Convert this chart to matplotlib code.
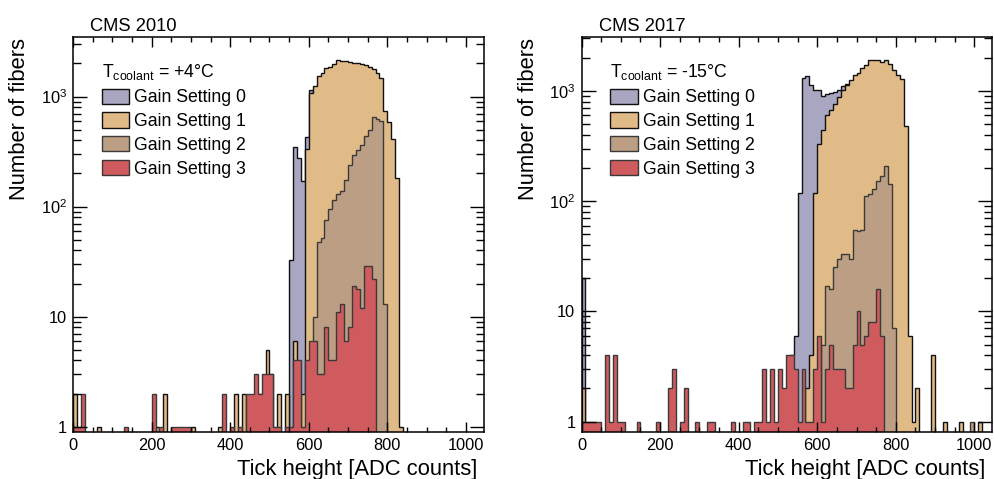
import numpy as np
import matplotlib
matplotlib.use("Agg")
import matplotlib.pyplot as plt
from matplotlib.patches import Patch
from matplotlib.ticker import FixedLocator, MultipleLocator, FuncFormatter, NullFormatter

plt.rcParams['font.family'] = ['Liberation Sans', 'DejaVu Sans']
plt.rcParams['mathtext.fontset'] = 'custom'
plt.rcParams['mathtext.rm'] = 'Liberation Sans'
plt.rcParams['mathtext.it'] = 'Liberation Sans:italic'
plt.rcParams['mathtext.bf'] = 'Liberation Sans:bold'

# binning: 10 ADC counts per bin
bin_width = 10
x_edges = np.arange(0, 1050 + bin_width, bin_width)

labels = ["Gain Setting 0", "Gain Setting 1", "Gain Setting 2", "Gain Setting 3"]
colors = ["#a9a6c1", "#e1bb87", "#bc9e84", "#cf5b5f"]
edges_col = ["#111111", "#111111", "#3a3a3a", "#3a3a3a"]

# ---- CMS 2010, T = +4 C  (bin lower edge -> number of fibers)
g0_2010_bins = [550, 560, 570, 580, 590, 600]
g0_2010_counts = [33, 350, 274, 171, 425, 1150]

g1_2010_bins = [0, 60, 210, 230, 300, 370, 410, 430, 470, 490, 500, 520, 540, 560, 580,
                590, 600, 610, 620, 630, 640, 650, 660, 670, 680, 690, 700, 710, 720,
                730, 740, 750, 760, 770, 780, 790, 800, 810, 820, 830]
g1_2010_counts = [2, 1, 1, 2, 1, 1, 2, 2, 2, 5, 3, 2, 2, 6, 2,
                  333, 1069, 1254, 1536, 1648, 1803, 1867, 1974, 2146, 2117, 2103, 2059, 2030, 2003,
                  1974, 1918, 1867, 1766, 1625, 1463, 738, 590, 408, 183, 1]

g2_2010_bins = [610, 620, 630, 640, 650, 660, 670, 680, 690, 700, 710, 720, 730, 740,
                750, 760, 770, 780, 790]
g2_2010_counts = [10, 48, 52, 75, 95, 115, 130, 140, 174, 238, 294, 326, 362, 437,
                  496, 655, 630, 600, 13]

g3_2010_bins = [0, 10, 20, 130, 200, 220, 250, 260, 270, 280, 290, 380, 400, 420, 440,
                450, 460, 470, 480, 490, 500, 510, 520, 540, 550, 560, 570, 580, 590, 600,
                610, 620, 630, 640, 650, 660, 670, 680, 690, 700, 710, 720, 730, 740,
                750, 760]
g3_2010_counts = [1, 1, 2, 1, 2, 1, 1, 1, 1, 1, 1, 2, 1, 1, 2,
                  2, 3, 2, 3, 3, 3, 1, 1, 1, 1, 4, 4, 1, 4, 6,
                  6, 3, 3, 8, 4, 4, 11, 13, 6, 8, 19, 18, 12, 29,
                  29, 22]

# ---- CMS 2017, T = -15 C
g0_2017_bins = [0, 530, 540, 550, 560, 570, 580, 590, 600, 610, 620, 630, 640, 650, 660, 670]
g0_2017_counts = [20, 4, 6, 118, 1300, 1370, 1124, 1028, 1014, 900, 930, 950, 980, 1014, 1100, 1150]

g1_2017_bins = [0, 570, 580, 590, 600, 610, 620, 630, 640, 650, 660, 670, 680, 690, 700,
                710, 720, 730, 740, 750, 760, 770, 780, 790, 800, 810, 820, 830, 840,
                850, 890, 920, 960, 1010]
g1_2017_counts = [2, 2, 4, 118, 327, 439, 601, 667, 767, 882, 1028, 1124, 1268, 1388, 1458,
                  1596, 1710, 1900, 1900, 1900, 1836, 1900, 1771, 1541, 1388, 1294, 477, 6, 1,
                  2, 4, 1, 1, 1]

g2_2017_bins = [610, 620, 630, 640, 650, 660, 670, 680, 690, 700, 710, 720, 730, 740,
                750, 760, 770, 780, 790, 990]
g2_2017_counts = [5, 17, 16, 25, 30, 33, 33, 30, 55, 54, 55, 111, 116, 129,
                  151, 168, 207, 144, 7, 1]

g3_2017_bins = [0, 10, 20, 30, 40, 60, 70, 80, 90, 100, 140, 190, 220, 230, 250, 260,
                290, 320, 330, 380, 410, 420, 440, 450, 460, 470, 480, 490, 500, 510,
                520, 530, 540, 550, 560, 570, 580, 590, 600, 610, 620, 630, 640, 650,
                660, 670, 680, 690, 700, 710, 720, 730, 740, 750, 760]
g3_2017_counts = [1, 1, 1, 1, 1, 4, 1, 4, 1, 1, 1, 1, 2, 3, 1, 2,
                  1, 1, 1, 1, 1, 1, 1, 1, 3, 1, 3, 1, 3, 2,
                  4, 4, 3, 1, 3, 1, 1, 3, 6, 1, 3, 5, 3, 3,
                  3, 2, 2, 5, 10, 5, 6, 8, 8, 16, 6]

panels = [
    dict(title="CMS 2010", temp="+4°C", ylim=(0.9, 3500),
         series=[(g0_2010_bins, g0_2010_counts), (g1_2010_bins, g1_2010_counts),
                 (g2_2010_bins, g2_2010_counts), (g3_2010_bins, g3_2010_counts)]),
    dict(title="CMS 2017", temp="-15°C", ylim=(0.81, 3100),
         series=[(g0_2017_bins, g0_2017_counts), (g1_2017_bins, g1_2017_counts),
                 (g2_2017_bins, g2_2017_counts), (g3_2017_bins, g3_2017_counts)]),
]

BASE = 1e-2  # below the visible range on the log axis


def to_hist(bins, counts):
    h = np.full(len(x_edges) - 1, BASE)
    h[np.asarray(bins) // bin_width] = counts
    return h


def ytick_fmt(v, pos):
    return {1: "1", 10: "10", 100: r"$\mathregular{10^{2}}$",
            1000: r"$\mathregular{10^{3}}$"}.get(int(round(v)), "")


W, H = 995, 479
fig = plt.figure(figsize=(W / 100, H / 100), dpi=100)

ax_left_px = [73, 581.5]
ax_w_px, ax_top_px, ax_bot_px = 411, 36.7, 431.7

for i, p in enumerate(panels):
    ax = fig.add_axes([ax_left_px[i] / W, 1 - ax_bot_px / H,
                       ax_w_px / W, (ax_bot_px - ax_top_px) / H])
    for (b, c), fc, ec in zip(p["series"], colors, edges_col):
        ax.stairs(to_hist(b, c), x_edges, fill=True, baseline=BASE,
                  facecolor=fc, edgecolor=ec, linewidth=1.0)

    ax.set_yscale("log")
    ax.set_xlim(0, 1046)
    ax.set_ylim(*p["ylim"])

    ax.xaxis.set_major_locator(MultipleLocator(200))
    ax.xaxis.set_minor_locator(MultipleLocator(50))
    ax.yaxis.set_major_locator(FixedLocator([1, 10, 100, 1000]))
    ax.yaxis.set_minor_locator(FixedLocator(
        [m * 10 ** e for e in range(0, 4) for m in range(2, 10)]))
    ax.yaxis.set_major_formatter(FuncFormatter(ytick_fmt))
    ax.yaxis.set_minor_formatter(NullFormatter())

    ax.tick_params(axis="both", which="both", direction="in", top=True, right=True,
                   width=1.0, labelsize=11.8, colors="black")
    ax.tick_params(axis="y", which="major", length=10, pad=4.5)
    ax.tick_params(axis="y", which="minor", length=5.5)
    ax.tick_params(axis="x", which="major", length=7, pad=4.5)
    ax.tick_params(axis="x", which="minor", length=3.6)
    for s in ax.spines.values():
        s.set_linewidth(1.1)

    ax.text(0.042, 1.015, p["title"], transform=ax.transAxes, fontsize=13.2,
            ha="left", va="baseline")

    handles = [Patch(facecolor=fc, edgecolor=ec, linewidth=1.0)
               for fc, ec in zip(colors, edges_col)]
    leg = ax.legend(handles, labels, title=r"T$_{\mathregular{coolant}}$ = " + p["temp"],
                    loc="upper left", bbox_to_anchor=(0.07, 0.935), frameon=False,
                    fontsize=12.7, title_fontsize=12.7, handlelength=1.55,
                    handleheight=0.95, handletextpad=0.3, labelspacing=0.35,
                    borderpad=0, borderaxespad=0, alignment="left")

    x0 = ax_left_px[i]
    fig.text((x0 - 53) / W, 1 - 38 / H, "Number of fibers", rotation=90,
             ha="center", va="top", fontsize=15.8)
    fig.text((x0 + ax_w_px - 7) / W, 1 - 475.5 / H, "Tick height [ADC counts]",
             ha="right", va="baseline", fontsize=15.8)

fig.savefig("out.png", dpi=100)
